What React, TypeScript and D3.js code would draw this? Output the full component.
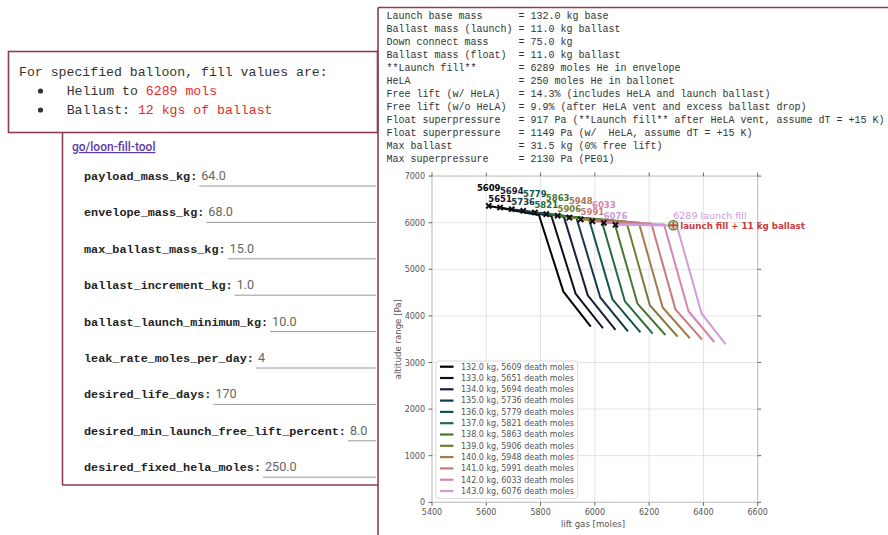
import React from "react";
import * as d3 from "d3";

// Launch mass per curve and the moles at which each balloon "dies"
const massKg = [132, 133, 134, 135, 136, 137, 138, 139, 140, 141, 142, 143];
const deathMoles = [5609, 5651, 5694, 5736, 5779, 5821, 5863, 5906, 5948, 5991, 6033, 6076];
const deathPa = [6360, 6325, 6290, 6255, 6220, 6185, 6150, 6110, 6070, 6030, 5995, 5955];

// Break points of each altitude-range curve
const cornerMoles = [5794, 5840, 5886, 5932, 5978, 6024, 6070, 6116, 6162, 6208, 6255, 6302];
const cornerPa = [6165, 6145, 6125, 6105, 6085, 6065, 6045, 6025, 6005, 5985, 5962, 5940];
const kneeMoles = [5884, 5929, 5974, 6020, 6065, 6111, 6157, 6203, 6250, 6297, 6345, 6393];
const kneePa = [4520, 4480, 4440, 4395, 4355, 4310, 4265, 4225, 4180, 4140, 4100, 4055];
const endMoles = [5985, 6030, 6076, 6122, 6168, 6213, 6260, 6305, 6350, 6395, 6440, 6482];
const endPa = [3770, 3735, 3700, 3670, 3645, 3620, 3590, 3555, 3520, 3490, 3440, 3390];

const launchFillMoles = 6289;
const launchFillPa = 5945;
const launchBallastKg = 11;

const xTicks = [5400, 5600, 5800, 6000, 6200, 6400, 6600];
const yTicks = [0, 1000, 2000, 3000, 4000, 5000, 6000, 7000];

const fieldNames = [
  "payload_mass_kg",
  "envelope_mass_kg",
  "max_ballast_mass_kg",
  "ballast_increment_kg",
  "ballast_launch_minimum_kg",
  "leak_rate_moles_per_day",
  "desired_life_days",
  "desired_min_launch_free_lift_percent",
  "desired_fixed_hela_moles",
];
const fieldValues = ["64.0", "68.0", "15.0", "1.0", "10.0", "4", "170", "8.0", "250.0"];

const reportLines = [
  "Launch base mass      = 132.0 kg base",
  "Ballast mass (launch) = 11.0 kg ballast",
  "Down connect mass     = 75.0 kg",
  "Ballast mass (float)  = 11.0 kg ballast",
  "**Launch fill**       = 6289 moles He in envelope",
  "HeLA                  = 250 moles He in ballonet",
  "Free lift (w/ HeLA)   = 14.3% (includes HeLA and launch ballast)",
  "Free lift (w/o HeLA)  = 9.9% (after HeLA vent and excess ballast drop)",
  "Float superpressure   = 917 Pa (**Launch fill** after HeLA vent, assume dT = +15 K)",
  "Float superpressure   = 1149 Pa (w/  HeLA, assume dT = +15 K)",
  "Max ballast           = 31.5 kg (0% free lift)",
  "Max superpressure     = 2130 Pa (PE01)",
];

const BORDER = "#8a3e52";
const W = 888;
const H = 535;

export default function App() {
  const plot = { left: 432, right: 757.7, top: 176.1, bottom: 502.3 };
  const x = d3.scaleLinear().domain([5400, 6600]).range([plot.left, plot.right]);
  const y = d3.scaleLinear().domain([0, 7000]).range([plot.bottom, plot.top]);
  const color = (i: number) => d3.interpolateCubehelixDefault((i * 0.7) / 11);
  const line = d3
    .line<[number, number]>()
    .x((d) => x(d[0]))
    .y((d) => y(d[1]));

  const series = massKg.map((m, i) => ({
    mass: m,
    death: deathMoles[i],
    pts: [
      [deathMoles[i], deathPa[i]],
      [cornerMoles[i], cornerPa[i]],
      [kneeMoles[i], kneePa[i]],
      [endMoles[i], endPa[i]],
    ] as [number, number][],
  }));

  const mono = "'Liberation Mono', 'DejaVu Sans Mono', monospace";
  const courier = "'Courier New', 'Liberation Mono', monospace";
  const sans = "'DejaVu Sans', sans-serif";
  const charW = 11.8 * 0.6;

  const lx = x(launchFillMoles);
  const ly = y(launchFillPa);

  return (
    <svg
      width={W}
      height={H}
      style={{ position: "absolute", left: 0, top: 0, background: "#fff" }}
    >
      <rect x={0} y={0} width={W} height={H} fill="#fff" />

      {/* summary box */}
      <rect x={8.5} y={51.5} width={369} height={81} fill="none" stroke={BORDER} strokeWidth={1.6} />
      <g fontFamily={mono} fontSize={13.2} fill="#333">
        <text x={19} y={76}>For specified balloon, fill values are:</text>
        <circle cx={40.5} cy={91} r={2.6} fill="#333" />
        <text x={66.7} y={95} style={{ whiteSpace: "pre" }}>
          Helium to <tspan fill="#e32b2b">{launchFillMoles} mols</tspan>
        </text>
        <circle cx={40.5} cy={110} r={2.6} fill="#333" />
        <text x={66.7} y={114} style={{ whiteSpace: "pre" }}>
          Ballast: <tspan fill="#e32b2b">12 kgs of ballast</tspan>
        </text>
      </g>

      {/* input form */}
      <line x1={62.5} x2={62.5} y1={132} y2={485} stroke={BORDER} strokeWidth={1.6} />
      <line x1={62} x2={378} y1={485} y2={485} stroke={BORDER} strokeWidth={1.6} />
      <text
        x={72}
        y={151}
        fontFamily="Roboto, sans-serif"
        fontSize={12}
        fontWeight={500}
        fill="#5e3aa6"
        textDecoration="underline"
      >
        go/loon-fill-tool
      </text>
      {fieldNames.map((name, i) => {
        const base = 180 + 36.4 * i;
        const vx = 84 + (name.length + 1) * charW + 4;
        return (
          <g key={name}>
            <text x={84} y={base} fontFamily={courier} fontWeight={700} fontSize={11.8} fill="#222">
              {name}:
            </text>
            <text x={vx} y={base} fontFamily="Roboto, sans-serif" fontSize={12.6} fill="#666">
              {fieldValues[i]}
            </text>
            <line x1={vx - 2} x2={376} y1={base + 6} y2={base + 6} stroke="#999" strokeWidth={1} />
          </g>
        );
      })}

      {/* report panel */}
      <line x1={378} x2={378} y1={7.5} y2={H} stroke={BORDER} strokeWidth={1.6} />
      <line x1={378} x2={W} y1={7.5} y2={7.5} stroke={BORDER} strokeWidth={1.6} />
      <g fontFamily={courier} fontSize={10} fill="#333">
        {reportLines.map((t, i) => (
          <text key={i} x={386.5} y={18.5 + 13 * i} style={{ whiteSpace: "pre" }}>
            {t}
          </text>
        ))}
      </g>

      {/* chart grid */}
      <g stroke="#e2e2e2" strokeWidth={1}>
        {xTicks.map((t) => (
          <line key={"gx" + t} x1={x(t)} x2={x(t)} y1={plot.top} y2={plot.bottom} />
        ))}
        {yTicks.map((t) => (
          <line key={"gy" + t} x1={plot.left} x2={plot.right} y1={y(t)} y2={y(t)} />
        ))}
      </g>
      <rect
        x={plot.left}
        y={plot.top}
        width={plot.right - plot.left}
        height={plot.bottom - plot.top}
        fill="none"
        stroke="#c4c4c4"
        strokeWidth={1}
      />
      <g stroke="#555" strokeWidth={0.9}>
        {xTicks.map((t) => (
          <g key={"tx" + t}>
            <line x1={x(t)} x2={x(t)} y1={plot.bottom} y2={plot.bottom + 3.5} />
            <line x1={x(t)} x2={x(t)} y1={plot.top} y2={plot.top - 3.5} />
          </g>
        ))}
        {yTicks.map((t) => (
          <g key={"ty" + t}>
            <line x1={plot.left - 3.5} x2={plot.left} y1={y(t)} y2={y(t)} />
            <line x1={plot.right} x2={plot.right + 3.5} y1={y(t)} y2={y(t)} />
          </g>
        ))}
      </g>
      <g fontFamily={sans} fontSize={8} fill="#555">
        {xTicks.map((t) => (
          <text key={"lx" + t} x={x(t)} y={515} textAnchor="middle">
            {t}
          </text>
        ))}
        {yTicks.map((t) => (
          <text key={"ly" + t} x={plot.left - 7} y={y(t) + 3} textAnchor="end">
            {t}
          </text>
        ))}
      </g>
      <text x={593} y={526.5} textAnchor="middle" fontFamily={sans} fontSize={8.6} fill="#555">
        lift gas [moles]
      </text>
      <text
        transform={`translate(401,${(plot.top + plot.bottom) / 2}) rotate(-90)`}
        textAnchor="middle"
        fontFamily={sans}
        fontSize={8.6}
        fill="#555"
      >
        altitude range [Pa]
      </text>

      {/* curves */}
      <g fill="none" strokeWidth={2} strokeLinejoin="round">
        {series.map((s, i) => (
          <path key={s.mass} d={line(s.pts) || ""} stroke={color(i)} />
        ))}
      </g>
      {/* death points */}
      <g stroke="#111" strokeWidth={2}>
        {series.map((s) => {
          const cx = x(s.death);
          const cy = y(s.pts[0][1]);
          const r = 2.6;
          return (
            <path
              key={"m" + s.mass}
              d={`M${cx - r},${cy - r}L${cx + r},${cy + r}M${cx - r},${cy + r}L${cx + r},${cy - r}`}
            />
          );
        })}
      </g>
      <g fontFamily={sans} fontSize={8.5} fontWeight={700} textAnchor="middle">
        {series.map((s, i) => (
          <text
            key={"t" + s.mass}
            x={x(s.death)}
            y={y(s.pts[0][1]) + (i % 2 === 0 ? -15 : -6)}
            fill={color(i)}
          >
            {s.death}
          </text>
        ))}
      </g>

      {/* launch fill point */}
      <text x={lx} y={ly - 6} fontFamily={sans} fontSize={9.5} fill={color(11)}>
        {launchFillMoles} launch fill
      </text>
      <circle cx={lx} cy={ly} r={4.6} fill="#d6a35c" fillOpacity={0.6} stroke="#3d8a3d" strokeWidth={1.3} />
      <path
        d={`M${lx - 3.5},${ly}L${lx + 3.5},${ly}M${lx},${ly - 3.5}L${lx},${ly + 3.5}`}
        stroke="#c83c3c"
        strokeWidth={1.3}
      />
      <text x={lx + 7} y={ly + 3.5} fontFamily={sans} fontSize={8.7} fontWeight={700} fill="#c83c3c">
        launch fill + {launchBallastKg} kg ballast
      </text>

      {/* legend */}
      <rect x={436} y={361} width={141.7} height={137.3} rx={2.5} fill="#fff" fillOpacity={0.85} stroke="#cfcfcf" strokeWidth={0.8} />
      {series.map((s, i) => {
        const ry = 366.7 + 11.3 * i;
        return (
          <g key={"lg" + s.mass}>
            <line x1={440} x2={453.5} y1={ry} y2={ry} stroke={color(i)} strokeWidth={2.2} />
            <text x={461} y={ry + 2.8} fontFamily={sans} fontSize={8} fill="#555">
              {s.mass.toFixed(1)} kg, {s.death} death moles
            </text>
          </g>
        );
      })}
    </svg>
  );
}
